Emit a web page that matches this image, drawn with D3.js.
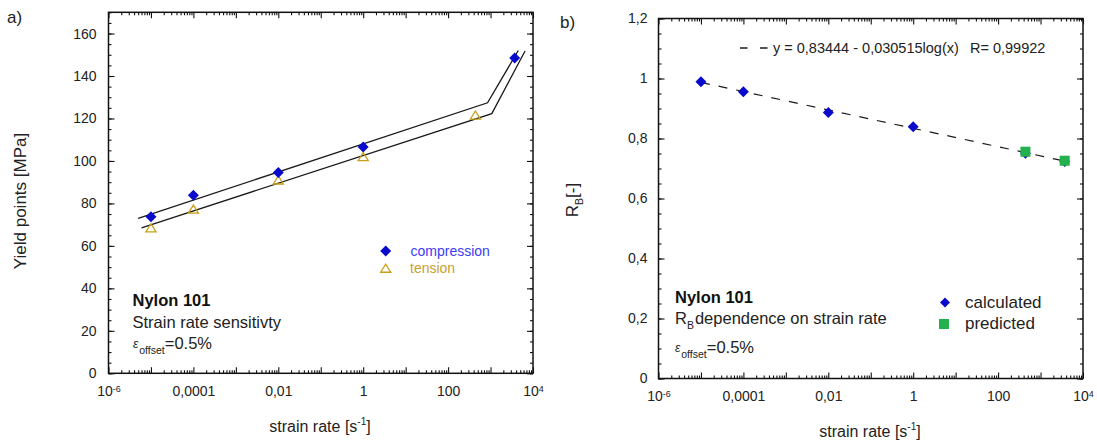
<!DOCTYPE html>
<html><head><meta charset="utf-8">
<script src="https://cdn.jsdelivr.net/npm/d3@7"></script>
<style>
body{margin:0;background:#fff;}
svg{display:block;font-family:"Liberation Sans",Arial,sans-serif;}
</style></head>
<body>
<svg id="c" width="1097" height="441"></svg>
<script>
// ---------- data ----------
const xDecades = [-6,-4,-2,0,2,4];
const xTickLabels = ["10^-6","0,0001","0,01","1","100","10^4"];
const yTicksA = [0,20,40,60,80,100,120,140,160];
const yTicksB = [0,0.2,0.4,0.6,0.8,1,1.2];
const yTickLabelsB = ["0","0,2","0,4","0,6","0,8","1","1,2"];

const compRate = [1e-5,1e-4,1e-2,1,3700];
const compYield = [73.7,83.9,94.6,106.6,148.5];
const tensRate = [1e-5,1e-4,1e-2,1,440];
const tensYield = [68.5,77.3,91,102,121.6];
const compFitRate = [5e-6,850,4500];
const compFitYield = [73,127.4,152];
const tensFitRate = [6e-6,1070,6500];
const tensFitYield = [68.5,122.3,151.8];

const calcRate = [1e-5,1e-4,1e-2,1,440,3700];
const calcRB = [0.989,0.956,0.887,0.839,0.751,0.723];
const predRate = [440,3700];
const predRB = [0.756,0.726];
const rbFitRate = [1e-5,4500];
const rbFitRB = [0.987,0.722];

// ---------- helpers ----------
const svg = d3.select("#c");
const TXT = "#222";

function minorLog(){
  const v=[];
  for(let e=-6;e<4;e++) for(let k=2;k<=9;k++) v.push(k*Math.pow(10,e));
  return v;
}
function range(a,b,s){const r=[];for(let v=a;v<=b+1e-9;v+=s)r.push(+v.toFixed(6));return r;}

function drawFrame(g, x, y, yMajor, yMinor, yFmt, yPad){
  const [x0,x1]=x.range(), [y0,y1]=y.range();
  const decs = xDecades.map(d=>Math.pow(10,d));
  const allDecs = d3.range(-6,5).map(d=>Math.pow(10,d));
  g.append("g").attr("transform",`translate(0,${y0})`)
    .call(d3.axisBottom(x).tickValues(minorLog()).tickSize(-3).tickFormat(""));
  g.append("g").attr("transform",`translate(0,${y0})`)
    .call(d3.axisBottom(x).tickValues(allDecs).tickSize(-6).tickFormat(""));
  const bLab = g.append("g").attr("transform",`translate(0,${y0})`)
    .call(d3.axisBottom(x).tickValues(decs).tickSize(0).tickPadding(13)
      .tickFormat((d,i)=>xTickLabels[i]));
  g.append("g").attr("transform",`translate(0,${y1})`)
    .call(d3.axisTop(x).tickValues(minorLog()).tickSize(-3).tickFormat(""));
  g.append("g").attr("transform",`translate(0,${y1})`)
    .call(d3.axisTop(x).tickValues(allDecs).tickSize(-6).tickFormat(""));
  g.append("g").attr("transform",`translate(${x0},0)`)
    .call(d3.axisLeft(y).tickValues(yMinor).tickSize(-3).tickFormat(""));
  g.append("g").attr("transform",`translate(${x0},0)`)
    .call(d3.axisLeft(y).tickValues(yMajor).tickSize(-6).tickPadding(yPad).tickFormat(yFmt));
  g.append("g").attr("transform",`translate(${x1},0)`)
    .call(d3.axisRight(y).tickValues(yMinor).tickSize(-3).tickFormat(""));
  g.append("g").attr("transform",`translate(${x1},0)`)
    .call(d3.axisRight(y).tickValues(yMajor).tickSize(-6).tickFormat(""));
  g.selectAll(".domain").remove();
  g.selectAll(".tick line").attr("stroke","#111").attr("stroke-width",1.1);
  g.selectAll(".tick text").attr("fill",TXT).attr("font-size",14)
    .attr("font-family","Liberation Sans, Arial, sans-serif");
  bLab.selectAll(".tick text").each(function(){
    const t=d3.select(this), s=t.text();
    if(s.includes("^")){
      const [b,e]=s.split("^");
      t.text(null);
      t.append("tspan").text(b);
      t.append("tspan").attr("dy","-0.5em").attr("font-size",9).text(e);
    }
  });
  g.append("rect").attr("x",x0).attr("y",y1).attr("width",x1-x0).attr("height",y0-y1)
    .attr("fill","none").attr("stroke","#111").attr("stroke-width",1.5);
}

function diamondPath(cx,cy,r){return `M${cx},${cy-r}L${cx+r},${cy}L${cx},${cy+r}L${cx-r},${cy}Z`;}
function triPath(cx,cy,r){return `M${cx},${cy-r}L${cx+r*1.1},${cy+r*0.75}L${cx-r*1.1},${cy+r*0.75}Z`;}
function epsLabel(g,x,y){
  const t=g.append("text").attr("x",x).attr("y",y).attr("font-size",16.5).attr("fill",TXT);
  t.append("tspan").attr("font-style","italic").attr("font-size",12).attr("dy",-1).text("ε");
  t.append("tspan").attr("font-size",10.5).attr("dy",6).attr("dx",1).text("offset");
  t.append("tspan").attr("dy",-5).text("=0.5%");
}
function xTitle(g,x,y){
  g.append("text").attr("x",x).attr("y",y).attr("text-anchor","middle").attr("font-size",16).attr("fill",TXT)
   .call(t=>{t.append("tspan").text("strain rate [s");t.append("tspan").attr("dy",-7).attr("font-size",10).text("-1");t.append("tspan").attr("dy",7).text("]");});
}

// ---------- panel a ----------
const xA = d3.scaleLog().domain([1e-6,1e4]).range([108.5,533]);
const yA = d3.scaleLinear().domain([0,170]).range([373.3,12.3]);
const gA = svg.append("g");
drawFrame(gA, xA, yA, yTicksA, range(0,170,5), d=>d, 12);

const lineA = d3.line().x(d=>xA(d[0])).y(d=>yA(d[1]));
gA.append("path").datum(compFitRate.map((r,i)=>[r,compFitYield[i]]))
  .attr("d",lineA).attr("fill","none").attr("stroke","#1a1a1a").attr("stroke-width",1.3);
gA.append("path").datum(tensFitRate.map((r,i)=>[r,tensFitYield[i]]))
  .attr("d",lineA).attr("fill","none").attr("stroke","#1a1a1a").attr("stroke-width",1.3);

gA.selectAll(".tens").data(tensRate.map((r,i)=>[r,tensYield[i]])).join("path")
  .attr("d",d=>triPath(xA(d[0]),yA(d[1])+0.5,4.6))
  .attr("fill","none").attr("stroke","#c8a018").attr("stroke-width",1.3);
gA.selectAll(".comp").data(compRate.map((r,i)=>[r,compYield[i]])).join("path")
  .attr("d",d=>diamondPath(xA(d[0]),yA(d[1]),5.5))
  .attr("fill","#0a0acc");

gA.append("path").attr("d",diamondPath(385.7,251,5.5)).attr("fill","#0a0acc");
gA.append("path").attr("d",triPath(385.7,268.8,4.6)).attr("fill","none").attr("stroke","#c8a018").attr("stroke-width",1.3);
gA.append("text").attr("x",410.5).attr("y",256).attr("font-size",14).attr("fill","#3c3cf0").text("compression");
gA.append("text").attr("x",410).attr("y",273).attr("font-size",14).attr("fill","#c8a030").text("tension");

gA.append("text").attr("x",132.5).attr("y",306).attr("font-size",16.5).attr("font-weight","bold").attr("fill","#111").text("Nylon 101");
gA.append("text").attr("x",132.5).attr("y",327.5).attr("font-size",16.5).attr("fill",TXT).text("Strain rate sensitivty");
epsLabel(gA,133,348.5);

xTitle(gA,320,432);
gA.append("text").attr("transform","translate(26,201) rotate(-90)").attr("text-anchor","middle").attr("font-size",17).attr("fill",TXT)
  .text("Yield points [MPa]");
svg.append("text").attr("x",7).attr("y",23).attr("font-size",17).attr("fill",TXT).text("a)");

// ---------- panel b ----------
const xB = d3.scaleLog().domain([1e-6,1e4]).range([658.5,1083]);
const yB = d3.scaleLinear().domain([0,1.2]).range([378.5,18.5]);
const gB = svg.append("g");
drawFrame(gB, xB, yB, yTicksB, range(0,1.2,0.05), (d,i)=>yTickLabelsB[i], 11);

const lineB = d3.line().x(d=>xB(d[0])).y(d=>yB(d[1]));
gB.append("path").datum(rbFitRate.map((r,i)=>[r,rbFitRB[i]]))
  .attr("d",lineB).attr("fill","none").attr("stroke","#1a1a1a").attr("stroke-width",1.2)
  .attr("stroke-dasharray","9,9");
gB.selectAll(".calc").data(calcRate.map((r,i)=>[r,calcRB[i]])).join("path")
  .attr("d",d=>diamondPath(xB(d[0]),yB(d[1]),5.5)).attr("fill","#0a0acc");
gB.selectAll(".pred").data(predRate.map((r,i)=>[r,predRB[i]])).join("rect")
  .attr("x",d=>xB(d[0])-5).attr("y",d=>yB(d[1])-5).attr("width",10).attr("height",10).attr("fill","#22b14c");

gB.append("line").attr("x1",740).attr("x2",747.5).attr("y1",48).attr("y2",48).attr("stroke","#1a1a1a").attr("stroke-width",1.5);
gB.append("line").attr("x1",760).attr("x2",767.5).attr("y1",48).attr("y2",48).attr("stroke","#1a1a1a").attr("stroke-width",1.5);
gB.append("text").attr("x",773).attr("y",53).attr("font-size",14.5).attr("fill",TXT).text("y = 0,83444 - 0,030515log(x)");
gB.append("text").attr("x",970).attr("y",53).attr("font-size",14.5).attr("fill",TXT).text("R= 0,99922");

gB.append("path").attr("d",diamondPath(945,302.5,5)).attr("fill","#0a0acc");
gB.append("rect").attr("x",939).attr("y",319).attr("width",10).attr("height",10).attr("fill","#22b14c");
gB.append("text").attr("x",965).attr("y",308).attr("font-size",17).attr("fill",TXT).text("calculated");
gB.append("text").attr("x",965).attr("y",328.5).attr("font-size",17).attr("fill",TXT).text("predicted");

gB.append("text").attr("x",675).attr("y",302.5).attr("font-size",16.5).attr("font-weight","bold").attr("fill","#111").text("Nylon 101");
gB.append("text").attr("x",675).attr("y",323.5).attr("font-size",16.5).attr("fill",TXT)
  .call(t=>{t.append("tspan").text("R");t.append("tspan").attr("font-size",10.5).attr("dy",5).text("B");t.append("tspan").attr("dy",-5).attr("dx",1).text("dependence on strain rate");});
epsLabel(gB,675,353);

xTitle(gB,870,437);
gB.append("text").attr("transform","translate(578,200) rotate(-90)").attr("text-anchor","middle").attr("font-size",17).attr("fill",TXT)
  .call(t=>{t.append("tspan").text("R");t.append("tspan").attr("font-size",10.5).attr("dy",5).text("B");t.append("tspan").attr("dy",-5).text("[-]");});
svg.append("text").attr("x",560).attr("y",28).attr("font-size",17).attr("fill",TXT).text("b)");
</script>
</body></html>
